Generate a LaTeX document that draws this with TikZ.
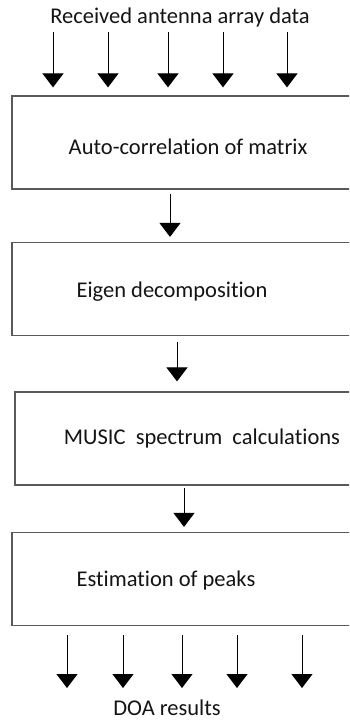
\documentclass[tikz,border=0pt]{standalone}
\usepackage{fontspec}
\setmainfont{Carlito}[Ligatures={NoCommon}]
\usetikzlibrary{arrows.meta}
\definecolor{ink}{HTML}{141414}
\definecolor{frame}{HTML}{5A5A5A}
\tikzset{
  stage/.style={draw=frame, line width=1.2pt, rectangle, inner sep=0pt,
    minimum height=93pt},
  lbl/.style={font=\fontsize{22.5}{26}\selectfont, text=ink, inner sep=0pt},
  flow/.style={draw=black, line width=0.9pt,
    -{Triangle[width=21pt,length=14pt]}},
}
\begin{document}
\begin{tikzpicture}[x=1pt,y=-1pt]
  \clip (0,0) rectangle (349,720);
  \useasboundingbox (0,0) rectangle (349,720);

  % input label
  \node[lbl] (inp) at (180,18) {Received antenna array data};

  % processing stages (boxes run past the right edge)
  \node[stage, minimum width=348pt] (b1) at (186,142.5) {};
  \node[stage, minimum width=348pt] (b2) at (186,289) {};
  \node[stage, minimum width=345pt] (b3) at (187.5,438.5) {};
  \node[stage, minimum width=348pt] (b4) at (186,579) {};

  \node[lbl] (t1) at (188,147) {Auto-correlation of matrix};
  \node[lbl] (t2) at (172,292) {Eigen decomposition};
  \node[lbl] (t3) at (202,438) {MUSIC\ \ spectrum\ \ calculations};
  \node[lbl] (t4) at (166,580) {Estimation of peaks};

  % output label
  \node[lbl] (out) at (167,708) {DOA results};

  % input arrows
  \foreach \x/\n in {53/1,108/2,168/3,223/4,287/5} {
    \coordinate (i\n) at (\x,32);
    \draw[flow, shorten >=8pt] (i\n) -- (i\n |- b1.north);
  }

  % stage to stage arrows
  \coordinate (a1) at (170,0);
  \coordinate (a2) at (177,0);
  \coordinate (a3) at (184,0);
  \draw[flow, shorten <=4pt, shorten >=5pt] (a1 |- b1.south) -- (a1 |- b2.north);
  \draw[flow, shorten <=6pt, shorten >=10pt] (a2 |- b2.south) -- (a2 |- b3.north);
  \draw[flow, shorten <=2pt, shorten >=5pt] (a3 |- b3.south) -- (a3 |- b4.north);

  % output arrows
  \foreach \x/\n in {67/1,123/2,182/3,237/4,302/5} {
    \coordinate (o\n) at (\x,688);
    \draw[flow, shorten <=9pt] (o\n |- b4.south) -- (o\n);
  }
\end{tikzpicture}
\end{document}
